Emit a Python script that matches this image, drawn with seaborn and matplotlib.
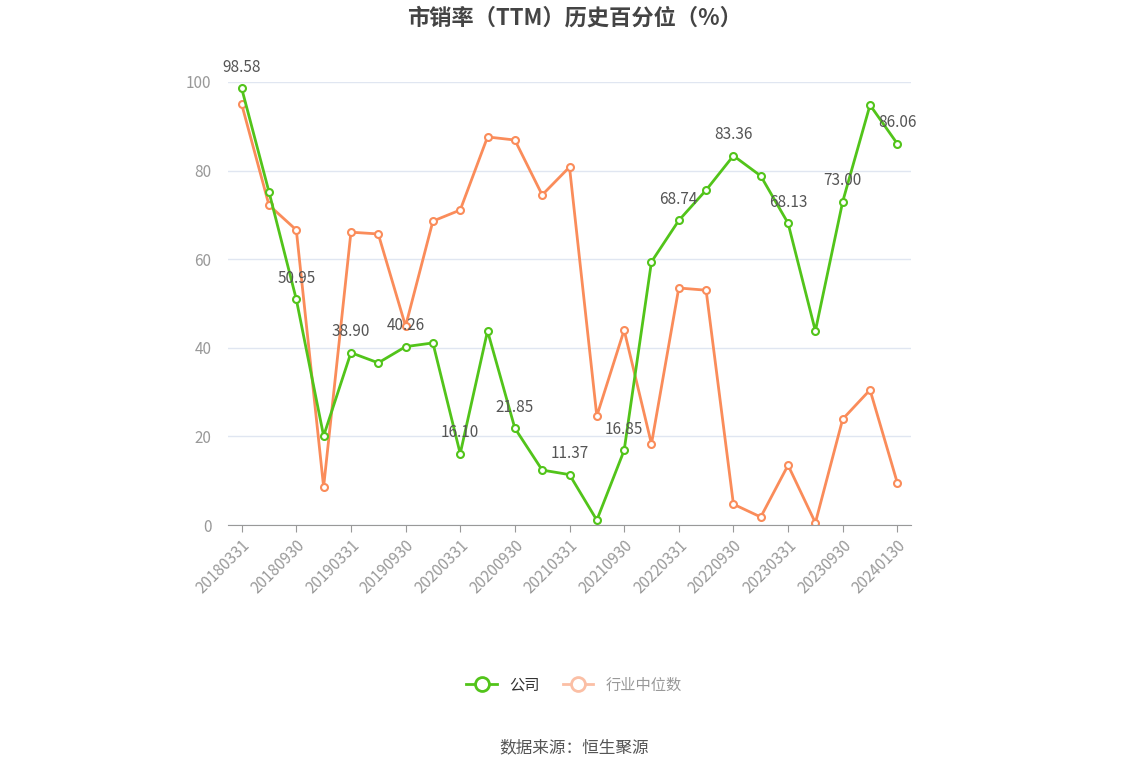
import matplotlib
matplotlib.use("Agg")
import matplotlib.pyplot as plt
import seaborn as sns
import pandas as pd
from matplotlib.lines import Line2D

plt.rcParams["font.family"] = "Noto Sans CJK SC"

dates = ["20180331","20180630","20180930","20181231","20190331","20190630","20190930","20191231",
         "20200331","20200630","20200930","20201231","20210331","20210630","20210930","20211231",
         "20220331","20220630","20220930","20221231","20230331","20230630","20230930","20231231","20240130"]
company = [98.58,75.2,50.95,20.1,38.90,36.6,40.26,41.1,16.10,43.8,21.85,12.4,11.37,1.1,16.85,59.4,
           68.74,75.6,83.36,78.8,68.13,43.8,73.00,94.8,86.06]
industry = [95.0,72.2,66.6,8.6,66.1,65.7,44.9,68.6,71.1,87.6,86.9,74.5,80.8,24.6,44.0,18.3,
            53.5,53.0,4.7,1.8,13.5,0.5,23.9,30.5,9.5]
labeled = [0,2,4,6,8,10,12,14,16,18,20,22,24]

df = pd.DataFrame({"x": range(len(dates)), "公司": company, "行业中位数": industry})
green, orange = "#52c41a", "#fa8c5a"

fig = plt.figure(figsize=(11.48, 7.76), dpi=100)
ax = fig.add_axes([228/1148, 1-525/776, 683/1148, 443/776])
sns.lineplot(data=df, x="x", y="行业中位数", ax=ax, color=orange, lw=2, marker="o",
             markersize=5, markerfacecolor="white", markeredgecolor=orange, markeredgewidth=1.5)
sns.lineplot(data=df, x="x", y="公司", ax=ax, color=green, lw=2, marker="o",
             markersize=5, markerfacecolor="white", markeredgecolor=green, markeredgewidth=1.5)
for i in labeled:
    ax.annotate(f"{company[i]:.2f}", (i, company[i]), xytext=(0, 9), textcoords="offset points",
                ha="center", va="bottom", fontsize=11, color="#555555")

ax.set_xlim(-0.5, 24.5)
ax.set_ylim(0, 100)
ax.set_yticks([0, 20, 40, 60, 80, 100])
ax.set_xticks(range(0, 25, 2))
ax.set_xticklabels(dates[::2], rotation=45, ha="right", rotation_mode="anchor", fontsize=11, color="#999999")
ax.tick_params(axis="y", length=0, labelsize=11, labelcolor="#999999", pad=12)
ax.tick_params(axis="x", length=5, color="#999999")
ax.grid(axis="y", color="#e0e6f1", lw=1)
ax.set_axisbelow(True)
for s in ["top", "right", "left"]:
    ax.spines[s].set_visible(False)
ax.spines["bottom"].set_color("#999999")
ax.set_xlabel(""); ax.set_ylabel("")

fig.text(0.5, 1-18/776, "市销率（TTM）历史百分位（%）", ha="center", va="center",
         fontsize=16, fontweight="bold", color="#444444")
handles = [Line2D([], [], color=green, lw=2, marker="o", markersize=10, markerfacecolor="white", markeredgewidth=2),
           Line2D([], [], color="#fbbfa5", lw=2, marker="o", markersize=10, markerfacecolor="white", markeredgewidth=2)]
leg = fig.legend(handles, ["公司", "行业中位数"], loc="center", bbox_to_anchor=(0.5, 1-685/776),
                 ncol=2, frameon=False, fontsize=11, handlelength=2, columnspacing=1.5)
leg.get_texts()[0].set_color("#333333"); leg.get_texts()[1].set_color("#999999")
fig.text(0.5, 1-748/776, "数据来源：恒生聚源", ha="center", va="center", fontsize=12, color="#555555")
fig.savefig("out.png", dpi=100)
